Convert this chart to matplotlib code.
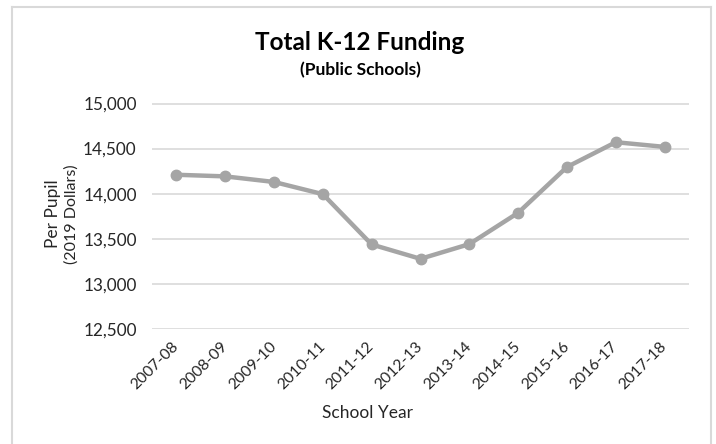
import matplotlib
matplotlib.use("Agg")
import matplotlib.pyplot as plt
from matplotlib.lines import Line2D
from matplotlib.ticker import FuncFormatter

years = ["2007-08", "2008-09", "2009-10", "2010-11", "2011-12", "2012-13",
         "2013-14", "2014-15", "2015-16", "2016-17", "2017-18"]
funding = [14210, 14192, 14130, 13995, 13437, 13278, 13441, 13788, 14296, 14571, 14519]
yticks = [12500, 13000, 13500, 14000, 14500, 15000]

plt.rcParams['font.family'] = ['Lato', 'DejaVu Sans']

W, H = 716, 444
fig = plt.figure(figsize=(W / 100, H / 100), dpi=100)
fig.patch.set_facecolor('white')

left, right, top, bottom = 152, 689, 103.5, 329
ax = fig.add_axes([left / W, 1 - bottom / H, (right - left) / W, (bottom - top) / H])

x = list(range(len(years)))
ax.plot(x, funding, color='#A5A5A5', linewidth=3.2, marker='o', markersize=7.5,
        markerfacecolor='#A5A5A5', markeredgecolor='#A5A5A5', zorder=3,
        solid_joinstyle='round')

ax.set_xlim(-0.5, len(years) - 0.5)
ax.set_ylim(12500, 15000)
ax.set_yticks(yticks)
ax.yaxis.set_major_formatter(FuncFormatter(lambda v, p: f"{int(v):,}"))
ax.set_xticks(x)
ax.set_xticklabels(years, rotation=45, ha='right', va='center', rotation_mode='anchor')
ax.grid(axis='y', color='#D9D9D9', linewidth=1.2)
ax.set_axisbelow(True)
for s in ax.spines.values():
    s.set_visible(False)
ax.tick_params(axis='both', length=0, colors='#262626')
ax.tick_params(axis='y', pad=11, labelsize=12.3)
ax.tick_params(axis='x', pad=11, labelsize=11.3)

fig.text(367 / W, 1 - 413 / H, "School Year", ha='center', va='center',
         fontsize=12.5, color='#262626')
fig.text(53 / W, 1 - 214 / H, "Per Pupil", ha='center', va='center',
         rotation=90, fontsize=12.5, color='#262626')
fig.text(71.5 / W, 1 - 214 / H, "(2019 Dollars)", ha='center', va='center',
         rotation=90, fontsize=11.5, color='#262626')

fig.text(360 / W, 1 - 42 / H, "Total K-12 Funding", ha='center', va='center',
         fontsize=17.5, fontweight='bold', color='#000000')
fig.text(360 / W, 1 - 70 / H, "(Public Schools)", ha='center', va='center',
         fontsize=12.5, fontweight='bold', color='#000000')

# outer chart border
bc = '#D9D9D9'
fig.add_artist(Line2D([12 / W, 12 / W], [0, 1 - 7 / H], color=bc, linewidth=1.5,
                      transform=fig.transFigure))
fig.add_artist(Line2D([12 / W, 711 / W], [1 - 7 / H, 1 - 7 / H], color=bc, linewidth=1.5,
                      transform=fig.transFigure))
fig.add_artist(Line2D([711 / W, 711 / W], [0, 1 - 7 / H], color=bc, linewidth=1.5,
                      transform=fig.transFigure))

fig.savefig("out.png", dpi=100, facecolor='white')
